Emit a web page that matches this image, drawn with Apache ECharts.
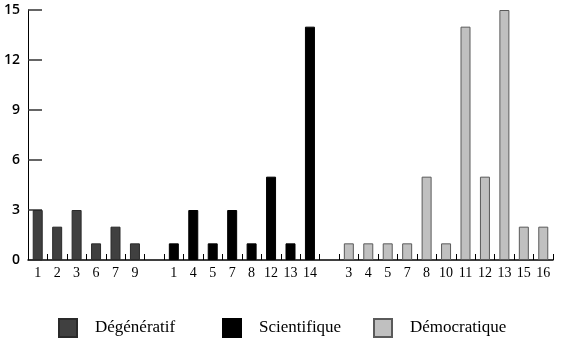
<!DOCTYPE html>
<html>
<head>
<meta charset="utf-8">
<script src="https://cdn.jsdelivr.net/npm/echarts@6/dist/echarts.min.js"></script>
<style>
  html, body { margin: 0; padding: 0; background: #fff; }
  #chart { width: 561px; height: 343px; }
</style>
</head>
<body>
<div id="chart"></div>
<script>
// Group labels and counts
const groupNames = ['Dégénératif', 'Scientifique', 'Démocratique'];
const degenLabels = ['1', '2', '3', '6', '7', '9'];
const degenValues = [3, 2, 3, 1, 2, 1];
const sciLabels = ['1', '4', '5', '7', '8', '12', '13', '14'];
const sciValues = [1, 3, 1, 3, 1, 5, 1, 14];
const demoLabels = ['3', '4', '5', '7', '8', '10', '11', '12', '13', '15', '16'];
const demoValues = [1, 1, 1, 1, 5, 1, 14, 5, 15, 2, 2];
const yTicks = [0, 3, 6, 9, 12, 15];

const groups = [
  { labels: degenLabels, values: degenValues, key: 'd' },
  { labels: sciLabels, values: sciValues, key: 's' },
  { labels: demoLabels, values: demoValues, key: 'm' }
];

// Build one category list with an empty slot between groups
const categories = [];
const seriesData = groups.map(() => []);
groups.forEach((g, gi) => {
  if (gi > 0) {
    categories.push('gap' + gi + '|');
    seriesData.forEach(arr => arr.push(null));
  }
  g.labels.forEach((lab, i) => {
    categories.push(g.key + i + '|' + lab);
    seriesData.forEach((arr, si) => arr.push(si === gi ? g.values[i] : null));
  });
});

const fills = ['#404040', '#000000', '#c0c0c0'];
const borders = ['#2a2a2a', '#000000', '#5a5a5a'];

const chart = echarts.init(document.getElementById('chart'), null, { renderer: 'canvas' });

const legendLefts = [58, 222, 373];

chart.setOption({
  animation: false,
  grid: { left: 28, right: 8, top: 10, bottom: 83, containLabel: false },
  legend: groupNames.map((name, i) => ({
    data: [name],
    left: legendLefts[i],
    top: 318,
    padding: 0,
    icon: 'rect',
    itemWidth: 18,
    itemHeight: 18,
    selectedMode: false,
    textStyle: {
      fontFamily: 'Liberation Serif',
      fontSize: 17,
      color: '#000',
      padding: [0, 0, 0, 13]
    }
  })),
  xAxis: {
    type: 'category',
    data: categories,
    axisLine: { lineStyle: { color: '#000', width: 1.5 } },
    axisTick: { show: true, inside: true, length: 6, interval: 0, lineStyle: { color: '#000', width: 1 } },
    axisLabel: {
      interval: 0,
      margin: 6,
      fontFamily: 'Liberation Serif',
      fontSize: 14,
      color: '#000',
      formatter: v => v.split('|')[1]
    },
    splitLine: { show: false }
  },
  yAxis: {
    type: 'value',
    min: yTicks[0],
    max: yTicks[yTicks.length - 1],
    interval: 3,
    axisLine: { show: true, lineStyle: { color: '#000', width: 1 } },
    axisTick: { show: true, inside: true, length: 14, lineStyle: { color: '#333', width: 1.5 } },
    axisLabel: {
      margin: 8,
      fontFamily: 'Open Sans',
      fontWeight: 600,
      fontSize: 14,
      color: '#000'
    },
    splitLine: { show: false }
  },
  series: groupNames.map((name, i) => ({
    name: name,
    type: 'bar',
    data: seriesData[i],
    barWidth: 10,
    barGap: '-100%',
    itemStyle: { color: fills[i], borderColor: borders[i], borderWidth: 1 }
  }))
});
</script>
</body>
</html>
